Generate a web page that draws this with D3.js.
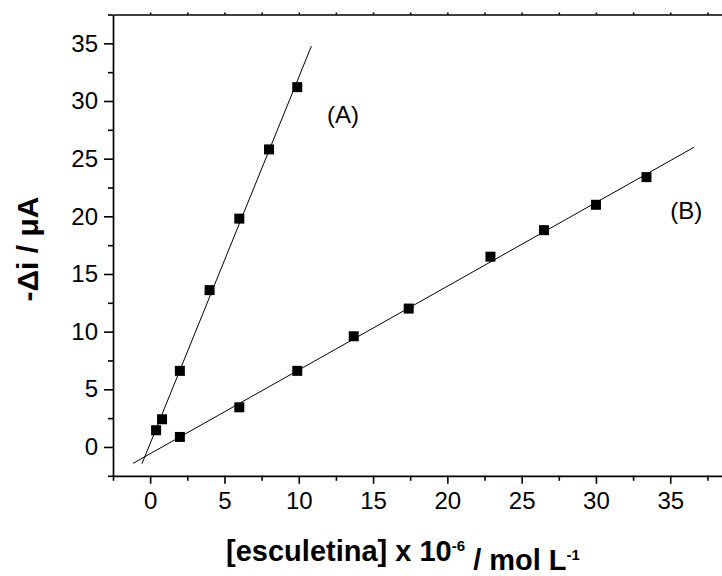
<!DOCTYPE html>
<html>
<head>
<meta charset="utf-8">
<script src="https://cdn.jsdelivr.net/npm/d3@7"></script>
<style>
  body { margin: 0; background: #fff; }
  svg { font-family: Arial, "Liberation Sans", sans-serif; }
</style>
</head>
<body>
<div id="chart"></div>
<script>
// Data
const concA = [0.4, 0.8, 2, 4, 6, 8, 9.9];
const currentA = [1.45, 2.4, 6.6, 13.6, 19.8, 25.8, 31.2];
const concB = [2, 6, 9.9, 13.7, 17.4, 22.9, 26.5, 30, 33.4];
const currentB = [0.87, 3.44, 6.6, 9.6, 12.0, 16.5, 18.8, 21.0, 23.4];
const fitRangeA = [-0.55, 10.85];
const fitRangeB = [-1.15, 36.6];
const xTicks = [0, 5, 10, 15, 20, 25, 30, 35];
const yTicks = [0, 5, 10, 15, 20, 25, 30, 35];
const seriesLabels = ["(A)", "(B)"];

const W = 722, H = 576;

const svg = d3.select("#chart")
    .append("svg")
    .attr("width", W)
    .attr("height", H);

// Scales (plot is cropped on the right in the original)
const x = d3.scaleLinear()
    .domain([-2.5, 40])
    .range([113, 113 + 42.5 * 14.86]);

const y = d3.scaleLinear()
    .domain([-2.5, 37.5])
    .range([475.8, 14.5]);

const minorX = d3.range(-2.5, 40, 2.5).filter(v => !xTicks.includes(v));
const minorY = d3.range(-2.5, 37.6, 2.5).filter(v => !yTicks.includes(v));

// Bottom axis
svg.append("g")
    .attr("transform", `translate(0,${y(-2.5)})`)
    .call(d3.axisBottom(x).tickValues(xTicks).tickSize(8).tickPadding(8).tickSizeOuter(0));
svg.append("g")
    .attr("transform", `translate(0,${y(-2.5)})`)
    .call(d3.axisBottom(x).tickValues(minorX).tickSize(5).tickFormat("").tickSizeOuter(0))
    .select(".domain").remove();

// Left axis
svg.append("g")
    .attr("transform", `translate(${x(-2.5)},0)`)
    .call(d3.axisLeft(y).tickValues(yTicks).tickSize(9).tickPadding(6).tickSizeOuter(0));
svg.append("g")
    .attr("transform", `translate(${x(-2.5)},0)`)
    .call(d3.axisLeft(y).tickValues(minorY).tickSize(5).tickFormat("").tickSizeOuter(0))
    .select(".domain").remove();

// Top frame line with tiny ticks
svg.append("g")
    .attr("transform", `translate(0,${y(37.5)})`)
    .call(d3.axisTop(x).tickValues(d3.range(0, 40, 2.5)).tickSize(2).tickFormat("").tickSizeOuter(0));

svg.selectAll(".domain").attr("stroke", "#000").attr("stroke-width", 1.7);
svg.selectAll(".tick line").attr("stroke", "#000").attr("stroke-width", 1.6);
svg.selectAll(".tick text")
    .style("font-size", "24px")
    .style("font-family", "Arial, 'Liberation Sans', sans-serif")
    .attr("fill", "#000");

// Least-squares fit lines
function fit(xs, ys) {
    const mx = d3.mean(xs), my = d3.mean(ys);
    const sxy = d3.sum(xs, (v, i) => (v - mx) * (ys[i] - my));
    const sxx = d3.sum(xs, v => (v - mx) * (v - mx));
    const slope = sxy / sxx;
    return { slope, intercept: my - slope * mx };
}

const series = [
    { xs: concA, ys: currentA, range: fitRangeA },
    { xs: concB, ys: currentB, range: fitRangeB }
];

series.forEach(s => {
    const f = fit(s.xs, s.ys);
    svg.append("line")
        .attr("x1", x(s.range[0]))
        .attr("y1", y(f.slope * s.range[0] + f.intercept))
        .attr("x2", x(s.range[1]))
        .attr("y2", y(f.slope * s.range[1] + f.intercept))
        .attr("stroke", "#000")
        .attr("stroke-width", 1);

    const size = 10;
    svg.append("g")
        .selectAll("rect")
        .data(s.xs.map((v, i) => [v, s.ys[i]]))
        .join("rect")
        .attr("x", d => x(d[0]) - size / 2)
        .attr("y", d => y(d[1]) - size / 2)
        .attr("width", size)
        .attr("height", size)
        .attr("fill", "#000");
});

// Series labels
svg.append("text")
    .attr("x", x(11.9))
    .attr("y", y(28.1))
    .style("font-size", "24px")
    .text(seriesLabels[0]);

svg.append("text")
    .attr("x", x(35.0))
    .attr("y", y(19.8))
    .style("font-size", "24px")
    .text(seriesLabels[1]);

// Axis titles
const xTitle = svg.append("text")
    .attr("x", 403)
    .attr("y", 561)
    .attr("text-anchor", "middle")
    .style("font-size", "29px")
    .style("font-weight", "bold");
xTitle.append("tspan").text("[esculetina] x 10");
xTitle.append("tspan").attr("dy", "-0.65em").style("font-size", "15px").text("-6");
xTitle.append("tspan").attr("dy", "0.65em").text(" / mol L");
xTitle.append("tspan").attr("dy", "-0.65em").style("font-size", "15px").text("-1");

svg.append("text")
    .attr("transform", "translate(38,249) rotate(-90)")
    .attr("text-anchor", "middle")
    .style("font-size", "30px")
    .style("font-weight", "bold")
    .text("-\u0394i / \u03bcA");
</script>
</body>
</html>
